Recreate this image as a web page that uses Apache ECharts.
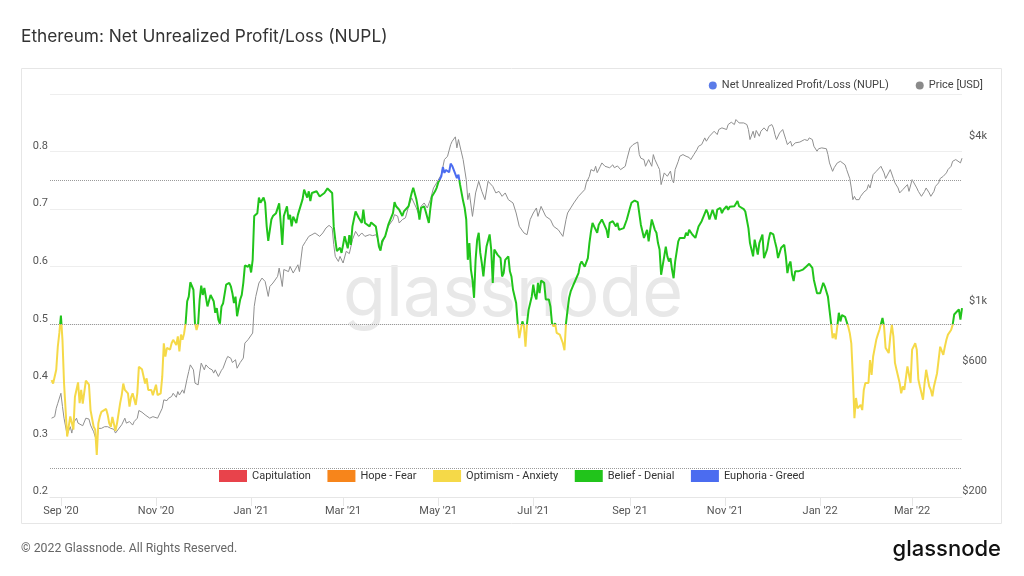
<!DOCTYPE html>
<html><head><meta charset="utf-8">
<script src="https://cdn.jsdelivr.net/npm/echarts@6/dist/echarts.min.js"></script>
<style>html,body{margin:0;padding:0;background:#fff;}#c{width:1024px;height:576px;}</style>
</head><body><div id="c"></div>
<script>
const nuplDates = ['2020-08-26','2020-08-27','2020-08-29','2020-08-30','2020-08-31','2020-09-01','2020-09-02','2020-09-03','2020-09-04','2020-09-05','2020-09-07','2020-09-08','2020-09-09','2020-09-10','2020-09-12','2020-09-13','2020-09-14','2020-09-15','2020-09-17','2020-09-19','2020-09-20','2020-09-22','2020-09-23','2020-09-24','2020-09-25','2020-09-26','2020-09-27','2020-09-28','2020-09-30','2020-10-01','2020-10-02','2020-10-03','2020-10-04','2020-10-05','2020-10-06','2020-10-07','2020-10-09','2020-10-10','2020-10-11','2020-10-12','2020-10-14','2020-10-15','2020-10-16','2020-10-17','2020-10-19','2020-10-20','2020-10-21','2020-10-23','2020-10-24','2020-10-25','2020-10-26','2020-10-27','2020-10-29','2020-10-30','2020-11-01','2020-11-02','2020-11-04','2020-11-05','2020-11-06','2020-11-07','2020-11-08','2020-11-10','2020-11-11','2020-11-12','2020-11-14','2020-11-15','2020-11-16','2020-11-17','2020-11-18','2020-11-19','2020-11-20','2020-11-21','2020-11-22','2020-11-23','2020-11-25','2020-11-26','2020-11-27','2020-11-28','2020-11-29','2020-11-30','2020-12-01','2020-12-02','2020-12-03','2020-12-04','2020-12-06','2020-12-07','2020-12-08','2020-12-09','2020-12-10','2020-12-11','2020-12-12','2020-12-13','2020-12-14','2020-12-15','2020-12-16','2020-12-18','2020-12-19','2020-12-20','2020-12-21','2020-12-22','2020-12-23','2020-12-25','2020-12-26','2020-12-27','2020-12-28','2020-12-30','2020-12-31','2021-01-01','2021-01-02','2021-01-03','2021-01-05','2021-01-06','2021-01-07','2021-01-09','2021-01-10','2021-01-11','2021-01-12','2021-01-14','2021-01-15','2021-01-16','2021-01-17','2021-01-19','2021-01-20','2021-01-21','2021-01-22','2021-01-24','2021-01-25','2021-01-26','2021-01-27','2021-01-28','2021-01-30','2021-01-31','2021-02-01','2021-02-03','2021-02-04','2021-02-06','2021-02-07','2021-02-08','2021-02-09','2021-02-10','2021-02-12','2021-02-13','2021-02-14','2021-02-15','2021-02-17','2021-02-18','2021-02-19','2021-02-20','2021-02-22','2021-02-23','2021-02-24','2021-02-25','2021-02-27','2021-02-28','2021-03-01','2021-03-02','2021-03-04','2021-03-05','2021-03-06','2021-03-07','2021-03-09','2021-03-10','2021-03-11','2021-03-13','2021-03-14','2021-03-15','2021-03-16','2021-03-18','2021-03-19','2021-03-20','2021-03-22','2021-03-23','2021-03-24','2021-03-25','2021-03-26','2021-03-28','2021-03-29','2021-03-30','2021-03-31','2021-04-02','2021-04-03','2021-04-04','2021-04-05','2021-04-06','2021-04-08','2021-04-09','2021-04-10','2021-04-12','2021-04-13','2021-04-14','2021-04-15','2021-04-17','2021-04-18','2021-04-19','2021-04-20','2021-04-22','2021-04-23','2021-04-25','2021-04-26','2021-04-27','2021-04-29','2021-04-30','2021-05-01','2021-05-03','2021-05-04','2021-05-05','2021-05-06','2021-05-08','2021-05-09','2021-05-10','2021-05-11','2021-05-13','2021-05-14','2021-05-15','2021-05-17','2021-05-18','2021-05-19','2021-05-20','2021-05-21','2021-05-22','2021-05-23','2021-05-24','2021-05-25','2021-05-26','2021-05-27','2021-05-28','2021-05-29','2021-05-30','2021-05-31','2021-06-01','2021-06-03','2021-06-04','2021-06-05','2021-06-06','2021-06-08','2021-06-10','2021-06-11','2021-06-12','2021-06-13','2021-06-15','2021-06-16','2021-06-17','2021-06-18','2021-06-20','2021-06-21','2021-06-22','2021-06-23','2021-06-24','2021-06-25','2021-06-26','2021-06-27','2021-06-28','2021-06-30','2021-07-01','2021-07-02','2021-07-03','2021-07-04','2021-07-05','2021-07-06','2021-07-08','2021-07-09','2021-07-10','2021-07-11','2021-07-12','2021-07-13','2021-07-14','2021-07-15','2021-07-16','2021-07-17','2021-07-18','2021-07-20','2021-07-21','2021-07-22','2021-07-23','2021-07-24','2021-07-25','2021-07-27','2021-07-28','2021-07-30','2021-07-31','2021-08-01','2021-08-02','2021-08-03','2021-08-05','2021-08-06','2021-08-07','2021-08-08','2021-08-09','2021-08-10','2021-08-11','2021-08-12','2021-08-14','2021-08-15','2021-08-16','2021-08-17','2021-08-18','2021-08-19','2021-08-20','2021-08-21','2021-08-23','2021-08-24','2021-08-25','2021-08-26','2021-08-28','2021-08-29','2021-08-30','2021-09-01','2021-09-02','2021-09-03','2021-09-04','2021-09-06','2021-09-07','2021-09-08','2021-09-09','2021-09-10','2021-09-12','2021-09-13','2021-09-14','2021-09-15','2021-09-17','2021-09-18','2021-09-19','2021-09-20','2021-09-21','2021-09-23','2021-09-24','2021-09-25','2021-09-26','2021-09-27','2021-09-28','2021-09-29','2021-09-30','2021-10-02','2021-10-03','2021-10-04','2021-10-06','2021-10-07','2021-10-08','2021-10-09','2021-10-11','2021-10-12','2021-10-13','2021-10-15','2021-10-16','2021-10-17','2021-10-18','2021-10-20','2021-10-21','2021-10-22','2021-10-24','2021-10-25','2021-10-26','2021-10-27','2021-10-29','2021-10-30','2021-10-31','2021-11-02','2021-11-03','2021-11-04','2021-11-05','2021-11-07','2021-11-08','2021-11-09','2021-11-10','2021-11-11','2021-11-13','2021-11-14','2021-11-15','2021-11-16','2021-11-17','2021-11-18','2021-11-19','2021-11-20','2021-11-21','2021-11-22','2021-11-23','2021-11-24','2021-11-25','2021-11-26','2021-11-28','2021-11-29','2021-11-30','2021-12-02','2021-12-03','2021-12-04','2021-12-05','2021-12-07','2021-12-08','2021-12-09','2021-12-10','2021-12-11','2021-12-12','2021-12-13','2021-12-14','2021-12-15','2021-12-16','2021-12-17','2021-12-18','2021-12-19','2021-12-21','2021-12-22','2021-12-23','2021-12-25','2021-12-26','2021-12-27','2021-12-28','2021-12-30','2021-12-31','2022-01-01','2022-01-03','2022-01-04','2022-01-05','2022-01-06','2022-01-07','2022-01-08','2022-01-09','2022-01-10','2022-01-11','2022-01-12','2022-01-13','2022-01-14','2022-01-15','2022-01-17','2022-01-18','2022-01-19','2022-01-20','2022-01-21','2022-01-22','2022-01-23','2022-01-24','2022-01-25','2022-01-27','2022-01-28','2022-01-29','2022-01-30','2022-02-01','2022-02-02','2022-02-03','2022-02-04','2022-02-06','2022-02-07','2022-02-08','2022-02-10','2022-02-11','2022-02-12','2022-02-13','2022-02-14','2022-02-15','2022-02-16','2022-02-17','2022-02-18','2022-02-19','2022-02-21','2022-02-22','2022-02-23','2022-02-24','2022-02-26','2022-02-27','2022-02-28','2022-03-01','2022-03-03','2022-03-04','2022-03-05','2022-03-06','2022-03-08','2022-03-09','2022-03-10','2022-03-12','2022-03-13','2022-03-14','2022-03-15','2022-03-17','2022-03-18','2022-03-19','2022-03-21','2022-03-22','2022-03-23','2022-03-24','2022-03-26','2022-03-27','2022-03-28','2022-03-29','2022-03-31','2022-04-01','2022-04-02'];
const nuplValues = [0.403,0.397,0.421,0.461,0.485,0.515,0.473,0.398,0.397,0.305,0.340,0.340,0.317,0.374,0.399,0.363,0.386,0.362,0.402,0.395,0.351,0.322,0.317,0.273,0.328,0.340,0.348,0.346,0.353,0.343,0.328,0.322,0.339,0.340,0.315,0.328,0.363,0.377,0.397,0.386,0.380,0.357,0.373,0.380,0.360,0.380,0.426,0.422,0.421,0.397,0.406,0.386,0.386,0.377,0.395,0.377,0.380,0.409,0.467,0.444,0.459,0.456,0.467,0.473,0.464,0.479,0.453,0.482,0.473,0.484,0.502,0.540,0.548,0.573,0.560,0.502,0.490,0.500,0.543,0.567,0.551,0.563,0.563,0.531,0.551,0.551,0.540,0.520,0.528,0.508,0.501,0.531,0.536,0.534,0.569,0.572,0.566,0.554,0.537,0.548,0.514,0.543,0.551,0.572,0.602,0.600,0.604,0.590,0.612,0.688,0.693,0.720,0.711,0.720,0.711,0.670,0.645,0.682,0.688,0.690,0.693,0.710,0.676,0.638,0.688,0.705,0.682,0.690,0.670,0.687,0.676,0.690,0.687,0.717,0.734,0.720,0.731,0.714,0.728,0.725,0.731,0.728,0.722,0.720,0.728,0.731,0.736,0.734,0.728,0.670,0.647,0.627,0.633,0.624,0.638,0.653,0.632,0.655,0.638,0.670,0.696,0.699,0.685,0.676,0.699,0.676,0.679,0.670,0.677,0.675,0.670,0.653,0.635,0.628,0.644,0.653,0.655,0.673,0.676,0.693,0.712,0.705,0.705,0.699,0.688,0.696,0.699,0.705,0.717,0.728,0.737,0.717,0.702,0.682,0.702,0.705,0.696,0.676,0.702,0.722,0.731,0.737,0.746,0.757,0.773,0.763,0.768,0.764,0.779,0.775,0.777,0.754,0.760,0.743,0.714,0.702,0.682,0.612,0.641,0.595,0.577,0.546,0.612,0.647,0.659,0.624,0.606,0.583,0.612,0.635,0.656,0.630,0.572,0.630,0.621,0.615,0.583,0.589,0.612,0.618,0.592,0.583,0.560,0.537,0.502,0.476,0.473,0.505,0.497,0.461,0.502,0.525,0.548,0.569,0.551,0.543,0.572,0.554,0.576,0.572,0.543,0.540,0.543,0.531,0.502,0.496,0.502,0.485,0.486,0.482,0.467,0.455,0.502,0.525,0.546,0.557,0.570,0.572,0.589,0.604,0.609,0.612,0.600,0.615,0.641,0.661,0.676,0.670,0.673,0.659,0.673,0.682,0.676,0.670,0.664,0.650,0.676,0.673,0.679,0.670,0.676,0.664,0.661,0.667,0.664,0.682,0.702,0.711,0.708,0.715,0.712,0.711,0.673,0.670,0.650,0.664,0.644,0.664,0.682,0.664,0.659,0.641,0.630,0.586,0.618,0.635,0.618,0.609,0.615,0.595,0.580,0.609,0.644,0.650,0.653,0.650,0.659,0.654,0.664,0.656,0.659,0.650,0.670,0.673,0.679,0.676,0.699,0.693,0.682,0.699,0.700,0.682,0.699,0.702,0.693,0.699,0.705,0.699,0.704,0.702,0.705,0.708,0.714,0.705,0.705,0.700,0.696,0.693,0.667,0.641,0.644,0.618,0.647,0.644,0.621,0.641,0.644,0.656,0.615,0.630,0.647,0.659,0.656,0.644,0.633,0.615,0.633,0.635,0.638,0.618,0.589,0.603,0.609,0.586,0.575,0.592,0.589,0.592,0.589,0.595,0.594,0.600,0.605,0.602,0.598,0.577,0.554,0.557,0.554,0.572,0.566,0.569,0.548,0.525,0.502,0.476,0.484,0.474,0.496,0.520,0.505,0.516,0.513,0.516,0.496,0.485,0.467,0.409,0.337,0.372,0.354,0.360,0.351,0.386,0.398,0.398,0.438,0.412,0.444,0.473,0.482,0.490,0.511,0.496,0.459,0.456,0.450,0.479,0.499,0.479,0.433,0.421,0.398,0.380,0.392,0.386,0.427,0.430,0.398,0.456,0.467,0.456,0.404,0.392,0.369,0.398,0.421,0.392,0.386,0.375,0.392,0.415,0.438,0.461,0.447,0.461,0.473,0.482,0.490,0.499,0.517,0.519,0.526,0.508,0.528];
const priceDates = ['2020-08-26','2020-08-28','2020-08-29','2020-08-30','2020-09-01','2020-09-02','2020-09-03','2020-09-04','2020-09-05','2020-09-07','2020-09-08','2020-09-09','2020-09-11','2020-09-12','2020-09-13','2020-09-15','2020-09-16','2020-09-17','2020-09-19','2020-09-20','2020-09-22','2020-09-23','2020-09-24','2020-09-25','2020-09-27','2020-09-29','2020-10-01','2020-10-03','2020-10-05','2020-10-06','2020-10-07','2020-10-10','2020-10-12','2020-10-13','2020-10-15','2020-10-17','2020-10-18','2020-10-20','2020-10-21','2020-10-23','2020-10-25','2020-10-26','2020-10-28','2020-10-30','2020-11-02','2020-11-03','2020-11-05','2020-11-06','2020-11-08','2020-11-09','2020-11-11','2020-11-12','2020-11-14','2020-11-15','2020-11-16','2020-11-18','2020-11-19','2020-11-21','2020-11-22','2020-11-23','2020-11-25','2020-11-26','2020-11-28','2020-11-29','2020-11-30','2020-12-02','2020-12-03','2020-12-05','2020-12-07','2020-12-08','2020-12-09','2020-12-11','2020-12-13','2020-12-14','2020-12-16','2020-12-17','2020-12-19','2020-12-20','2020-12-22','2020-12-23','2020-12-25','2020-12-27','2020-12-28','2020-12-30','2020-12-31','2021-01-02','2021-01-03','2021-01-04','2021-01-06','2021-01-08','2021-01-09','2021-01-10','2021-01-12','2021-01-13','2021-01-15','2021-01-16','2021-01-18','2021-01-19','2021-01-21','2021-01-22','2021-01-25','2021-01-26','2021-01-28','2021-01-31','2021-02-01','2021-02-03','2021-02-05','2021-02-07','2021-02-09','2021-02-11','2021-02-14','2021-02-16','2021-02-18','2021-02-20','2021-02-22','2021-02-23','2021-02-24','2021-02-26','2021-02-27','2021-03-01','2021-03-03','2021-03-05','2021-03-07','2021-03-09','2021-03-11','2021-03-13','2021-03-15','2021-03-18','2021-03-20','2021-03-22','2021-03-23','2021-03-25','2021-03-27','2021-03-28','2021-03-30','2021-04-02','2021-04-03','2021-04-05','2021-04-06','2021-04-08','2021-04-10','2021-04-12','2021-04-14','2021-04-17','2021-04-19','2021-04-20','2021-04-22','2021-04-24','2021-04-26','2021-04-28','2021-04-30','2021-05-03','2021-05-05','2021-05-07','2021-05-09','2021-05-10','2021-05-12','2021-05-13','2021-05-14','2021-05-16','2021-05-17','2021-05-19','2021-05-20','2021-05-21','2021-05-23','2021-05-25','2021-05-27','2021-05-29','2021-05-31','2021-06-02','2021-06-05','2021-06-07','2021-06-09','2021-06-11','2021-06-13','2021-06-15','2021-06-18','2021-06-20','2021-06-22','2021-06-23','2021-06-25','2021-06-27','2021-06-29','2021-07-01','2021-07-03','2021-07-04','2021-07-06','2021-07-07','2021-07-09','2021-07-10','2021-07-12','2021-07-14','2021-07-15','2021-07-17','2021-07-18','2021-07-20','2021-07-22','2021-07-23','2021-07-25','2021-07-27','2021-07-30','2021-08-01','2021-08-03','2021-08-04','2021-08-06','2021-08-07','2021-08-09','2021-08-10','2021-08-11','2021-08-13','2021-08-14','2021-08-16','2021-08-17','2021-08-19','2021-08-21','2021-08-22','2021-08-24','2021-08-26','2021-08-27','2021-08-29','2021-08-30','2021-09-01','2021-09-03','2021-09-04','2021-09-06','2021-09-07','2021-09-08','2021-09-10','2021-09-11','2021-09-12','2021-09-13','2021-09-15','2021-09-16','2021-09-17','2021-09-19','2021-09-20','2021-09-21','2021-09-23','2021-09-24','2021-09-25','2021-09-27','2021-09-28','2021-09-29','2021-09-30','2021-10-02','2021-10-03','2021-10-05','2021-10-07','2021-10-09','2021-10-10','2021-10-12','2021-10-14','2021-10-15','2021-10-17','2021-10-19','2021-10-20','2021-10-22','2021-10-23','2021-10-25','2021-10-27','2021-10-28','2021-10-30','2021-10-31','2021-11-02','2021-11-03','2021-11-05','2021-11-07','2021-11-08','2021-11-10','2021-11-11','2021-11-13','2021-11-15','2021-11-16','2021-11-17','2021-11-19','2021-11-20','2021-11-21','2021-11-23','2021-11-24','2021-11-26','2021-11-28','2021-11-29','2021-12-01','2021-12-02','2021-12-03','2021-12-04','2021-12-06','2021-12-07','2021-12-08','2021-12-10','2021-12-11','2021-12-13','2021-12-14','2021-12-16','2021-12-17','2021-12-19','2021-12-20','2021-12-22','2021-12-24','2021-12-25','2021-12-27','2021-12-28','2021-12-30','2021-12-31','2022-01-02','2022-01-03','2022-01-05','2022-01-06','2022-01-07','2022-01-09','2022-01-10','2022-01-12','2022-01-14','2022-01-15','2022-01-17','2022-01-18','2022-01-20','2022-01-21','2022-01-22','2022-01-23','2022-01-24','2022-01-26','2022-01-27','2022-01-29','2022-01-31','2022-02-01','2022-02-02','2022-02-04','2022-02-06','2022-02-07','2022-02-09','2022-02-11','2022-02-12','2022-02-13','2022-02-15','2022-02-17','2022-02-18','2022-02-20','2022-02-21','2022-02-23','2022-02-24','2022-02-26','2022-02-27','2022-03-01','2022-03-02','2022-03-04','2022-03-05','2022-03-07','2022-03-09','2022-03-10','2022-03-12','2022-03-13','2022-03-15','2022-03-16','2022-03-18','2022-03-19','2022-03-21','2022-03-23','2022-03-24','2022-03-26','2022-03-27','2022-03-29','2022-03-30','2022-04-01','2022-04-02'];
const priceValues = [389,394,423,441,480,429,389,383,338,362,343,373,389,373,378,365,367,389,386,367,347,343,319,357,357,362,362,357,354,343,347,368,389,373,378,367,378,389,415,409,400,400,389,394,389,394,423,454,451,460,467,480,464,487,473,494,480,545,577,610,585,523,515,569,619,585,610,593,585,569,585,553,583,593,637,655,645,622,637,593,622,646,733,754,745,798,999,1087,1217,1269,1287,1233,1087,1182,1217,1200,1287,1381,1182,1364,1340,1400,1324,1420,1340,1658,1730,1804,1830,1857,1804,1857,1936,1980,1936,1682,1524,1460,1524,1441,1590,1560,1754,1882,1804,1857,1804,1830,1815,1830,1780,1612,1754,1804,1964,2078,2167,2140,2020,2078,2110,2324,2496,2293,2136,2324,2392,2293,2460,2715,2834,3039,3450,3548,3915,4028,4179,3808,4085,3649,3450,2913,2460,2603,2136,2603,2872,2638,2460,2872,2752,2603,2638,2530,2603,2460,2392,2198,1964,1990,1857,1830,2078,2198,2293,2136,2324,2324,2136,2160,2078,1964,1990,1909,1880,1804,2078,2198,2293,2392,2530,2603,2677,2834,2996,3170,3130,3260,3089,3260,3354,3260,3300,3220,3300,3220,3270,3170,3220,3260,3450,3808,3915,3972,4000,3598,3490,3450,3260,3354,3450,3260,3598,3450,3260,3170,2793,3083,3083,2996,3130,2913,2834,3170,3400,3548,3598,3548,3510,3450,3598,3754,3860,3915,4143,4028,4200,4261,4381,4261,4446,4509,4570,4446,4636,4728,4636,4836,4700,4760,4700,4636,4446,4085,4381,4150,4410,4200,4381,4509,4381,4570,4636,4509,4261,4085,4320,4381,4446,4085,3915,4028,3860,3972,3915,4000,3972,4085,4050,4143,4085,3860,3702,3780,3808,3835,3780,3598,3354,3124,3220,3354,3400,3354,3300,3170,2940,2715,2460,2530,2460,2460,2530,2620,2677,2793,2715,3039,3124,3170,3260,3083,2940,2913,3170,2940,2834,2715,2603,2677,2638,2793,2638,2913,2940,2715,2638,2530,2638,2715,2603,2530,2638,2752,2834,2940,2996,3083,3170,3260,3400,3450,3490,3354,3490];
const xTickMonths = ['Jan','Feb','Mar','Apr','May','Jun','Jul','Aug','Sep','Oct','Nov','Dec'];
const priceTicks = [200, 600, 1000, 4000];
const zoneNames = ['Capitulation','Hope - Fear','Optimism - Anxiety','Belief - Denial','Euphoria - Greed'];
const zoneBounds = [0, 0.25, 0.5, 0.75];
const zoneColors = ['#e8434b','#f7851b','#f5d948','#21c41b','#4b6cf0'];

const NUPL_NAME = 'Net Unrealized Profit/Loss (NUPL)';
const PRICE_NAME = 'Price [USD]';
const FONT = 'Roboto, "Noto Sans", sans-serif';
const DAY = 86400000;
const ts = s => echarts.time.parse(s).getTime();

const pieces = zoneNames.map((name, i) => {
  const p = { label: name, color: zoneColors[i] };
  if (i > 0) p.gte = zoneBounds[i - 1];
  if (i < zoneBounds.length) p.lt = zoneBounds[i];
  return p;
});

const chart = echarts.init(document.getElementById('c'));
chart.setOption({
  animation: false,
  textStyle: { fontFamily: FONT },
  grid: { left: 50, right: 62, top: 94, bottom: 79 },
  legend: {
    right: 36, top: 75, icon: 'circle', itemWidth: 8, itemHeight: 8, itemGap: 27,
    selectedMode: false,
    textStyle: { fontSize: 11, color: '#444', fontFamily: FONT },
    data: [
      { name: NUPL_NAME, itemStyle: { color: '#5b7ce8' } },
      { name: PRICE_NAME, itemStyle: { color: '#8a8a8a' } }
    ]
  },
  visualMap: {
    type: 'piecewise', seriesIndex: 1, dimension: 1, orient: 'horizontal',
    left: 204, top: 455, itemWidth: 28, itemHeight: 12, itemGap: 16.5, textGap: 5,
    itemSymbol: 'rect', selectedMode: false, hoverLink: false,
    textStyle: { fontSize: 11, color: '#333', fontFamily: FONT },
    pieces: pieces
  },
  xAxis: {
    type: 'time', min: ts('2020-08-25'), max: ts('2022-04-02'),
    minInterval: 62 * DAY, maxInterval: 62 * DAY,
    axisLine: { lineStyle: { color: '#e6e6e6' } },
    axisTick: { show: true, length: 9, lineStyle: { color: '#e6e6e6' } },
    axisLabel: {
      fontSize: 11, color: '#555', margin: 9, fontFamily: FONT, hideOverlap: false,
      formatter: v => { const d = new Date(v); return xTickMonths[d.getMonth()] + " '" + String(d.getFullYear()).slice(2); }
    },
    splitLine: { show: false }
  },
  yAxis: [
    {
      type: 'value', min: 0.2, max: 0.9, interval: 0.1, position: 'left',
      axisLine: { show: false }, axisTick: { show: false },
      splitLine: { lineStyle: { color: '#eeeeee' } },
      axisLabel: {
        fontSize: 11, color: '#555', margin: 2, verticalAlign: 'bottom', fontFamily: FONT,
        formatter: v => (v > 0.85 ? '' : (Math.round(v * 10) / 10).toFixed(1))
      }
    },
    {
      type: 'log', logBase: 10, min: 200, max: 6000, position: 'right',
      axisLine: { show: false }, axisTick: { show: false }, splitLine: { show: false },
      axisLabel: {
        customValues: priceTicks, align: 'right', margin: 25, fontSize: 11, color: '#555',
        verticalAlign: 'bottom', fontFamily: FONT,
        formatter: v => { const r = Math.round(v); return r >= 1000 ? '$' + (r / 1000) + 'k' : '$' + r; }
      }
    }
  ],
  series: [
    {
      name: PRICE_NAME, type: 'line', yAxisIndex: 1, symbol: 'none', z: 2,
      data: priceDates.map((d, i) => [d, priceValues[i]]),
      lineStyle: { color: '#8f8f8f', width: 1 }, itemStyle: { color: '#8f8f8f' }
    },
    {
      name: NUPL_NAME, type: 'line', yAxisIndex: 0, symbol: 'none', z: 3,
      data: nuplDates.map((d, i) => [d, nuplValues[i]]),
      lineStyle: { width: 2 }, itemStyle: { color: '#5b7ce8' },
      markLine: {
        silent: true, symbol: ['none', 'none'], label: { show: false },
        lineStyle: { type: 'dotted', color: '#9a9a9a', width: 1 },
        data: zoneBounds.filter(b => b > 0).map(b => ({ yAxis: b }))
      }
    }
  ],
  graphic: [
    { type: 'rect', silent: true, z: -10, shape: { x: 21.5, y: 68.5, width: 980, height: 455 }, style: { fill: 'none', stroke: '#e6e6e6', lineWidth: 1 } },
    { type: 'text', silent: true, z: -5, left: 343, top: 260, style: { text: 'glassnode', font: '70px Inter, "Noto Sans", sans-serif', fill: '#e8e8e8' } },
    { type: 'text', silent: true, left: 21, top: 28, style: { text: 'Ethereum: Net Unrealized Profit/Loss (NUPL)', font: '17.3px Inter, "Noto Sans", sans-serif', fill: '#333' } },
    { type: 'text', silent: true, left: 21, top: 543, style: { text: '© 2022 Glassnode. All Rights Reserved.', font: '12.3px Roboto, sans-serif', fill: '#666' } },
    { type: 'text', silent: true, right: 23, top: 538, style: { text: 'glassnode', font: '500 22px Inter, "Noto Sans", sans-serif', fill: '#111' } }
  ]
});
</script>
</body></html>
